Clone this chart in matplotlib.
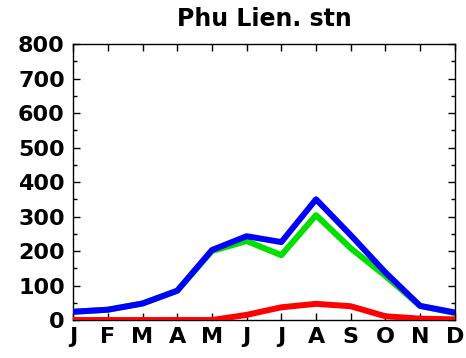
import numpy as np
import matplotlib.pyplot as plt
from matplotlib.ticker import MultipleLocator

months = ["J", "F", "M", "A", "M", "J", "J", "A", "S", "O", "N", "D"]
total = [24, 30, 48, 85, 203, 243, 226, 350, 246, 138, 41, 22]
green = [24, 30, 48, 85, 200, 229, 188, 304, 208, 128, 41, 20]
red = [0, 0, 0, 0, 0, 15, 37, 47, 40, 11, 4, 2]

plt.rcParams["font.family"] = ["DejaVu Sans"]
plt.rcParams["font.weight"] = "bold"

fig = plt.figure(figsize=(4.66, 3.58), dpi=100)
ax = fig.add_axes([0.157, 0.106, 0.819, 0.771])

x = np.arange(len(months))
ax.plot(x, red, color="#ff0000", lw=4.3, solid_joinstyle="round", zorder=3)
ax.plot(x, green, color="#00e000", lw=4.3, solid_joinstyle="round", zorder=4)
ax.plot(x, total, color="#0000ff", lw=4.3, solid_joinstyle="round", zorder=5)

ax.set_xlim(0, 11)
ax.set_ylim(0, 800)
ax.set_xticks(x)
ax.set_xticklabels(months)
ax.yaxis.set_major_locator(MultipleLocator(100))
ax.yaxis.set_minor_locator(MultipleLocator(50))
ax.tick_params(axis="both", which="both", direction="in", top=True, right=True,
               labelsize=16, width=1)
ax.tick_params(which="major", length=5)
ax.tick_params(which="minor", length=3)
ax.tick_params(axis="x", pad=5)
ax.tick_params(axis="y", pad=6)
for lab in ax.get_xticklabels() + ax.get_yticklabels():
    lab.set_fontweight("bold")
for s in ax.spines.values():
    s.set_linewidth(1.0)

ax.set_title("Phu Lien. stn", fontsize=17, fontweight="bold", pad=13)

fig.savefig("out.png", dpi=100, facecolor="white")
